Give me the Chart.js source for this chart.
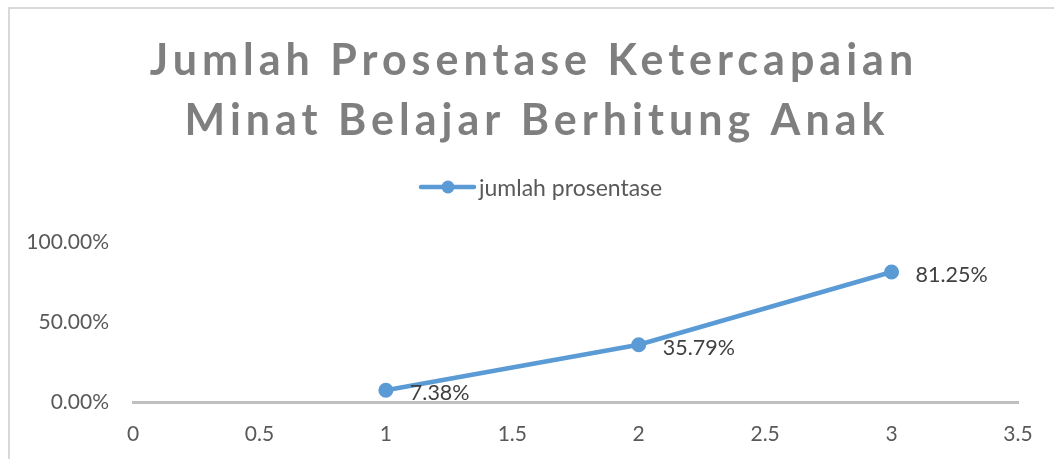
<!DOCTYPE html>
<html>
<head>
<meta charset="utf-8">
<script src="https://cdn.jsdelivr.net/npm/chart.js@4/dist/chart.umd.min.js"></script>
<style>
  html, body { margin: 0; padding: 0; background: #ffffff; }
  #wrap { position: relative; width: 1054px; height: 459px; }
</style>
</head>
<body>
<div id="wrap"><canvas id="c" width="1054" height="459"></canvas></div>
<script>
// ---- data ----
const titleLines = ["Jumlah Prosentase Ketercapaian", "Minat Belajar Berhitung Anak"];
const seriesName = "jumlah prosentase";
const xValues = [1, 2, 3];
const percentValues = [0.0738, 0.3579, 0.8125];
const dataLabels = ["7.38%", "35.79%", "81.25%"];
const xTicks = [0, 0.5, 1, 1.5, 2, 2.5, 3, 3.5];
const xTickLabels = ["0", "0.5", "1", "1.5", "2", "2.5", "3", "3.5"];
const yTicks = [0, 0.5, 1];
const yTickLabels = ["0.00%", "50.00%", "100.00%"];

const FONT = "Lato, 'Open Sans', sans-serif";
const LINE_COLOR = "#5b9bd5";

const decorPlugin = {
  id: 'decor',
  beforeDraw(chart) {
    const ctx = chart.ctx;
    ctx.save();
    ctx.fillStyle = '#ffffff';
    ctx.fillRect(0, 0, chart.width, chart.height);
    // chart frame
    ctx.strokeStyle = '#d9d9d9';
    ctx.lineWidth = 2;
    ctx.beginPath();
    ctx.moveTo(9, chart.height + 5);
    ctx.lineTo(9, 8);
    ctx.lineTo(chart.width + 5, 8);
    ctx.stroke();
    ctx.restore();
  },
  afterDraw(chart) {
    const ctx = chart.ctx;
    ctx.save();
    // title
    ctx.fillStyle = '#7f7f7f';
    ctx.font = "bold 43px " + FONT;
    ctx.textAlign = 'center';
    ctx.textBaseline = 'alphabetic';
    try { ctx.letterSpacing = '5px'; } catch (e) {}
    ctx.fillText(titleLines[0], 534, 75);
    ctx.fillText(titleLines[1], 537, 135);
    try { ctx.letterSpacing = '0px'; } catch (e) {}
    // legend
    ctx.strokeStyle = LINE_COLOR;
    ctx.lineWidth = 4.5;
    ctx.lineCap = 'round';
    ctx.beginPath();
    ctx.moveTo(421, 187);
    ctx.lineTo(474, 187);
    ctx.stroke();
    ctx.fillStyle = LINE_COLOR;
    ctx.beginPath();
    ctx.arc(448, 187, 6.5, 0, Math.PI * 2);
    ctx.fill();
    ctx.fillStyle = '#595959';
    ctx.font = "23px " + FONT;
    ctx.textAlign = 'left';
    ctx.textBaseline = 'alphabetic';
    ctx.fillText(seriesName, 479, 196);
    // data labels
    const meta = chart.getDatasetMeta(0);
    ctx.fillStyle = '#404040';
    ctx.font = "21.5px " + FONT;
    ctx.textBaseline = 'middle';
    meta.data.forEach((pt, i) => {
      ctx.fillText(dataLabels[i], pt.x + 24, pt.y + 3);
    });
    ctx.restore();
  }
};

new Chart(document.getElementById('c'), {
  type: 'line',
  data: {
    datasets: [{
      label: seriesName,
      data: xValues.map((x, i) => ({ x: x, y: percentValues[i] })),
      borderColor: LINE_COLOR,
      backgroundColor: LINE_COLOR,
      borderWidth: 4.5,
      pointRadius: 6.5,
      pointBorderWidth: 2,
      pointBackgroundColor: LINE_COLOR,
      pointBorderColor: LINE_COLOR,
      tension: 0,
      fill: false,
      clip: false
    }]
  },
  options: {
    responsive: false,
    animation: false,
    devicePixelRatio: 1,
    layout: { padding: { top: 242, right: 36, bottom: 0, left: 0 } },
    plugins: {
      legend: { display: false },
      title: { display: false },
      tooltip: { enabled: false }
    },
    scales: {
      x: {
        type: 'linear',
        min: 0,
        max: 3.5,
        afterBuildTicks: (s) => { s.ticks = xTicks.map(v => ({ value: v })); },
        afterFit: (s) => { s.height = 57; },
        grid: { display: false, drawTicks: false },
        border: { display: true, color: '#bfbfbf', width: 3 },
        ticks: {
          padding: 20,
          color: '#595959',
          font: { family: FONT, size: 21 },
          maxRotation: 0,
          autoSkip: false,
          callback: (v, i) => xTickLabels[i]
        }
      },
      y: {
        type: 'linear',
        min: 0,
        max: 1,
        afterBuildTicks: (s) => { s.ticks = yTicks.map(v => ({ value: v })); },
        afterFit: (s) => { s.width = 133; },
        grid: { display: false, drawTicks: false },
        border: { display: false },
        ticks: {
          padding: 24,
          color: '#595959',
          font: { family: FONT, size: 21 },
          autoSkip: false,
          callback: (v, i) => yTickLabels[i]
        }
      }
    }
  },
  plugins: [decorPlugin]
});
</script>
</body>
</html>
